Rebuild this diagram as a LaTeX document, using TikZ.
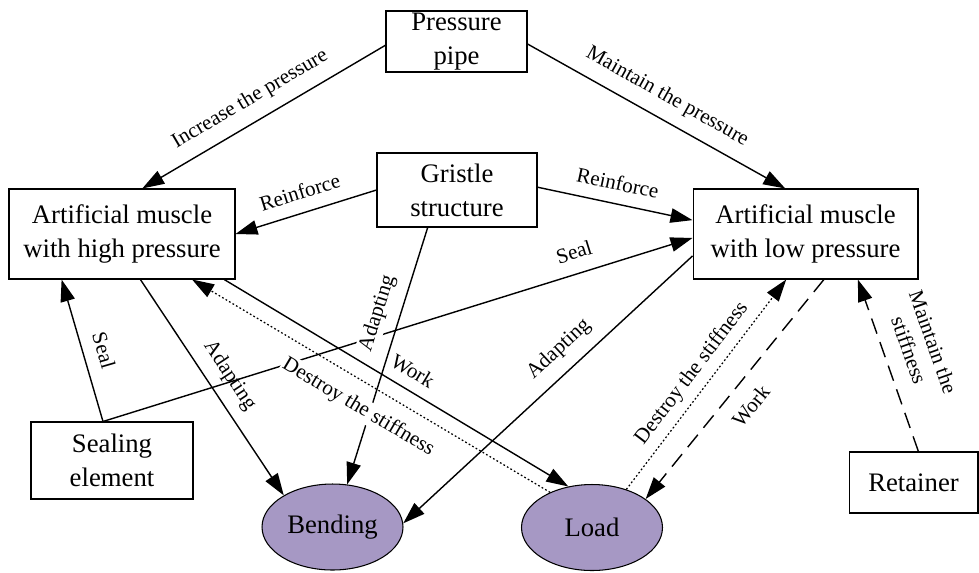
\documentclass[tikz,border=0pt]{standalone}
\usepackage{fontspec}
\setmainfont{Liberation Serif}
\usetikzlibrary{arrows.meta, shapes.geometric}
\definecolor{lilac}{RGB}{166,152,196}
\pgfkeys{/tikz/.cd,
    overall style/.style={
        line width=0.8pt,
        >={Triangle[length=0.44cm,width=0.29cm]},
        x=0.02cm, y=-0.02cm % one unit = one pixel of the sketch
    },
    box/.style={draw, line width=0.6pt, align=center, inner sep=0pt,
        font=\fontsize{15.2}{19.4}\selectfont},
    oval/.style={draw, ellipse, fill=lilac, line width=0.6pt, inner sep=0pt,
        minimum width=2.82cm, minimum height=1.72cm,
        font=\fontsize{15.2}{19.4}\selectfont},
    lbl/.style={sloped, fill=white, inner sep=1pt, align=center,
        font=\fontsize{12}{14.5}\selectfont},
    dots/.style={dash pattern=on 1pt off 1.3pt, line width=0.7pt},
    longdash/.style={dash pattern=on 0.32cm off 0.18cm}
}

\begin{document}
\begin{tikzpicture}[overall style]

    \useasboundingbox (0,0) rectangle (979,572);

    % --- 1. nodes ---
    \node[box, minimum width=2.82cm, minimum height=1.22cm] (pipe) at (456.5,41.5) {Pressure\\pipe};
    \node[box, minimum width=3.2cm, minimum height=1.48cm] (gristle) at (457,190) {Gristle\\structure};
    \node[box, minimum width=4.52cm, minimum height=1.8cm] (high) at (122,234) {Artificial muscle\\with high pressure};
    \node[box, minimum width=4.5cm, minimum height=1.8cm] (low) at (805.5,234) {Artificial muscle\\with low pressure};
    \node[box, minimum width=3.24cm, minimum height=1.54cm] (seal) at (112,460.5) {Sealing\\element};
    \node[box, minimum width=2.58cm, minimum height=1.22cm] (retainer) at (913.5,482.5) {Retainer};
    \node[oval] (bending) at (332.5,527) {Bending};
    \node[oval] (load) at (592,527.5) {Load};

    % --- 2. pressure and gristle ---
    \draw[->] (pipe.183) -- (high.66.5) node[lbl, pos=0.51, above=0.2cm] {Increase the pressure};
    \draw[->] (pipe.-2) -- (low.114) node[lbl, pos=0.5, above=0.2cm] {Maintain the pressure};
    \draw[->] (gristle.west) -- (high.east) node[lbl, pos=0.5, above=0.22cm] {Reinforce};
    \draw[->] (gristle.2) -- (low.173) node[lbl, pos=0.49, above=0.22cm] {Reinforce};

    % --- 3. sealing and adapting (order matters: labels hide lines below) ---
    \draw[->] (seal.103) -- (high.217.8) node[lbl, pos=0.46, above=0.22cm] {Seal};
    \draw[->] (high.-68.6) -- (bending.147.6) node[lbl, pos=0.5, above=0.18cm] {Adapting};
    \draw[->] (seal.103) -- (low.182) node[lbl, pos=0.81, above=0.24cm] {Seal};
    \draw[->] (low.191.6) -- (bending.3.2) node[lbl, pos=0.41, above=0.2cm] {Adapting};
    \draw[->] (gristle.-128) -- (bending.71.4) node[lbl, pos=0.36, above=0.2cm] {Adapting};

    % --- 4. work and stiffness ---
    \draw[->] (high.-24) -- (load.120.5) node[lbl, pos=0.52, above=0.18cm] {Work};
    \draw[->, dots] (load.140.2) -- (high.-33.5) node[lbl, pos=0.5, below=0.26cm] {Destroy the stiffness};
    \draw[->, dots] (load.48.4) -- (low.247.6) node[lbl, pos=0.5, above=0.12cm] {Destroy the stiffness};
    \draw[->, longdash] (low.-68.7) -- (load.28.6) node[lbl, pos=0.51, below=0.26cm] {Work};
    \draw[->, longdash] (retainer.81.9) -- (low.-41.2) node[lbl, pos=0.54, above=0.3cm] {Maintain the\\stiffness};

\end{tikzpicture}
\end{document}
